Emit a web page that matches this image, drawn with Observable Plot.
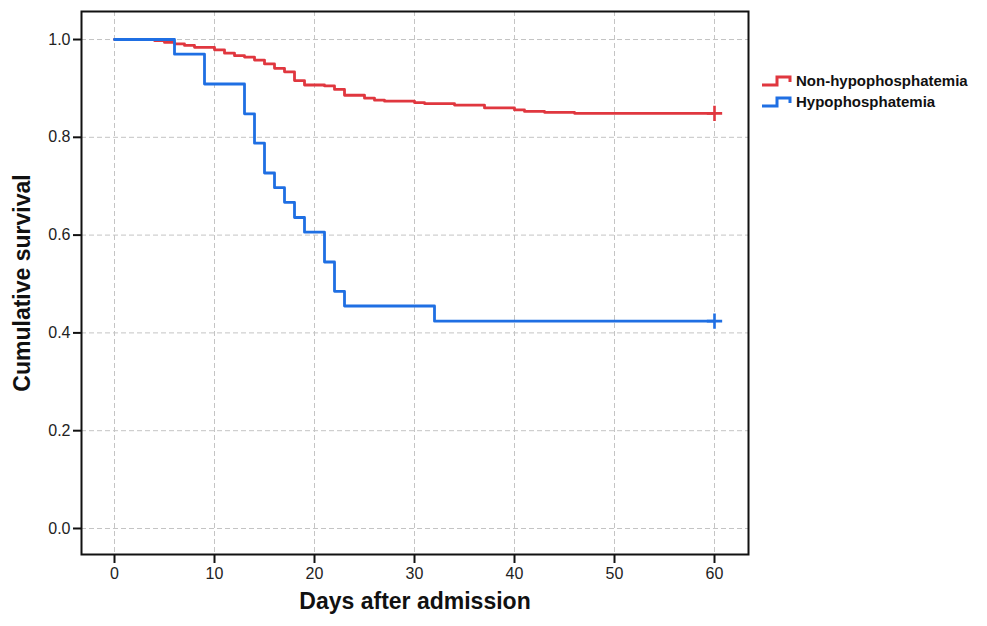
<!DOCTYPE html>
<html>
<head>
<meta charset="utf-8">
<script src="https://cdn.jsdelivr.net/npm/d3@7"></script>
<script src="https://cdn.jsdelivr.net/npm/@observablehq/plot@0.6"></script>
<style>
  html, body { margin: 0; padding: 0; background: #fff; }
  #wrap { position: relative; width: 987px; height: 626px; }
  #legend { position: absolute; left: 760px; top: 70px; font-family: "Liberation Sans", Arial, sans-serif; font-weight: bold; font-size: 15px; color: #111; }
  #legend .row { display: flex; align-items: center; height: 21px; }
  #legend svg { margin-right: 2px; }
</style>
</head>
<body>
<div id="wrap"></div>
<script>
// Kaplan-Meier step data
const nonHypoDays = [0, 4, 5, 6, 7, 8, 10, 11, 12, 13, 14, 15, 16, 17, 18, 19, 21, 22, 23, 25, 26, 27, 30, 31, 34, 37, 40, 41, 43, 46, 60];
const nonHypoSurv = [1.0, 0.998, 0.994, 0.991, 0.988, 0.984, 0.979, 0.972, 0.967, 0.964, 0.958, 0.950, 0.941, 0.934, 0.916, 0.907, 0.905, 0.898, 0.886, 0.880, 0.876, 0.874, 0.871, 0.869, 0.866, 0.860, 0.856, 0.853, 0.851, 0.849, 0.849];
const hypoDays = [0, 6, 9, 13, 14, 15, 16, 17, 18, 19, 21, 22, 23, 32, 60];
const hypoSurv = [1.0, 0.970, 0.909, 0.848, 0.788, 0.727, 0.697, 0.667, 0.636, 0.606, 0.545, 0.485, 0.455, 0.424, 0.424];
const groups = ["Non-hypophosphatemia", "Hypophosphatemia"];
const colors = ["#e0373f", "#1f6fe3"];
const xTicks = [0, 10, 20, 30, 40, 50, 60];
const yTicks = [0.0, 0.2, 0.4, 0.6, 0.8, 1.0];
const xLabel = "Days after admission";
const yLabel = "Cumulative survival";

const series = [
  nonHypoDays.map((d, i) => ({group: groups[0], day: d, surv: nonHypoSurv[i]})),
  hypoDays.map((d, i) => ({group: groups[1], day: d, surv: hypoSurv[i]}))
];
const censored = series.map(s => s[s.length - 1]);

const narrow = "'Liberation Sans Narrow', 'Arial Narrow', 'Liberation Sans', Arial, sans-serif";

const chart = Plot.plot({
  width: 987,
  height: 626,
  marginLeft: 81,
  marginRight: 239,
  marginTop: 11,
  marginBottom: 72,
  style: {fontFamily: "'Liberation Sans', Arial, sans-serif", background: "#fff"},
  x: {domain: [-3.3, 63.4]},
  y: {domain: [-0.0532, 1.0573]},
  color: {domain: groups, range: colors},
  marks: [
    Plot.gridX(xTicks, {stroke: "#c4c4c4", strokeOpacity: 1, strokeDasharray: "5,3", strokeWidth: 1}),
    Plot.gridY(yTicks, {stroke: "#c4c4c4", strokeOpacity: 1, strokeDasharray: "5,3", strokeWidth: 1}),
    Plot.axisX({ticks: xTicks, tickSize: 9, tickPadding: 4, tickFormat: d3.format("d"), fontSize: 16, fill: "#222", stroke: "#111", strokeWidth: 2, label: null}),
    Plot.axisY({ticks: yTicks, tickSize: 8, tickPadding: 3, tickFormat: d3.format(".1f"), fontSize: 16, fill: "#222", stroke: "#111", strokeWidth: 2, label: null}),
    ...series.map((s, i) => Plot.line(s, {x: "day", y: "surv", curve: "step-after", stroke: colors[i], strokeWidth: 2.8})),
    Plot.dot(censored, {x: "day", y: "surv", symbol: "plus", r: 5, stroke: "group", strokeWidth: 2.6}),
    Plot.frame({stroke: "#111", strokeWidth: 2}),
    Plot.text([yLabel], {frameAnchor: "left", dx: -59, rotate: -90, textAnchor: "middle", text: d => d, fontSize: 23, fontWeight: "bold", fontFamily: narrow, fill: "#111"}),
    Plot.text([xLabel], {frameAnchor: "bottom", dy: 54, textAnchor: "middle", text: d => d, fontSize: 23, fontWeight: "bold", fontFamily: narrow, fill: "#111"})
  ]
});

const wrap = document.getElementById("wrap");
wrap.appendChild(chart);

const legend = document.createElement("div");
legend.id = "legend";
groups.forEach((g, i) => {
  const row = document.createElement("div");
  row.className = "row";
  row.innerHTML = `<svg width="34" height="14"><path d="M2,11H17V3H30V8" fill="none" stroke="${colors[i]}" stroke-width="3"/></svg><span>${g}</span>`;
  legend.appendChild(row);
});
wrap.appendChild(legend);
</script>
</body>
</html>
